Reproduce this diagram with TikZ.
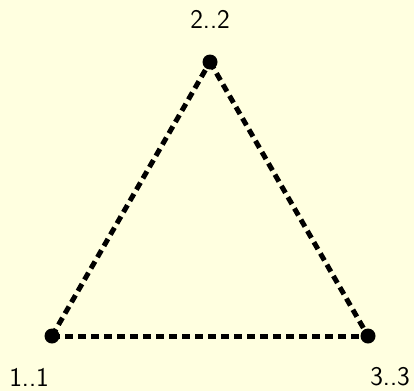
\documentclass[tikz,border=0pt]{standalone}
\definecolor{bgyellow}{HTML}{FFFFE0}
\tikzset{
  vertex/.style={circle,fill=black,inner sep=0pt,minimum size=15pt},
  vlabel/.style={font=\sffamily\fontsize{27}{32}\selectfont,inner sep=0pt},
  edge/.style={line width=5pt,dash pattern=on 8pt off 5pt}
}
\begin{document}
\begin{tikzpicture}[x=1pt,y=-1pt]
\fill[bgyellow] (0,0) rectangle (414,391);
\useasboundingbox (0,0) rectangle (414,391);
\node[vertex] (n1) at (52,336) {};
\node[vertex] (n2) at (210,62) {};
\node[vertex] (n3) at (368,336) {};
\node[vlabel] (l1) at (29,377) {1..1};
\node[vlabel] (l2) at (210,19) {2..2};
\node[vlabel] (l3) at (390,377) {3..3};
\draw[edge] (n1.center) -- (n2.center);
\draw[edge] (n2.center) -- (n3.center);
\draw[edge] (n1.center) -- (n3.center);
\end{tikzpicture}
\end{document}
